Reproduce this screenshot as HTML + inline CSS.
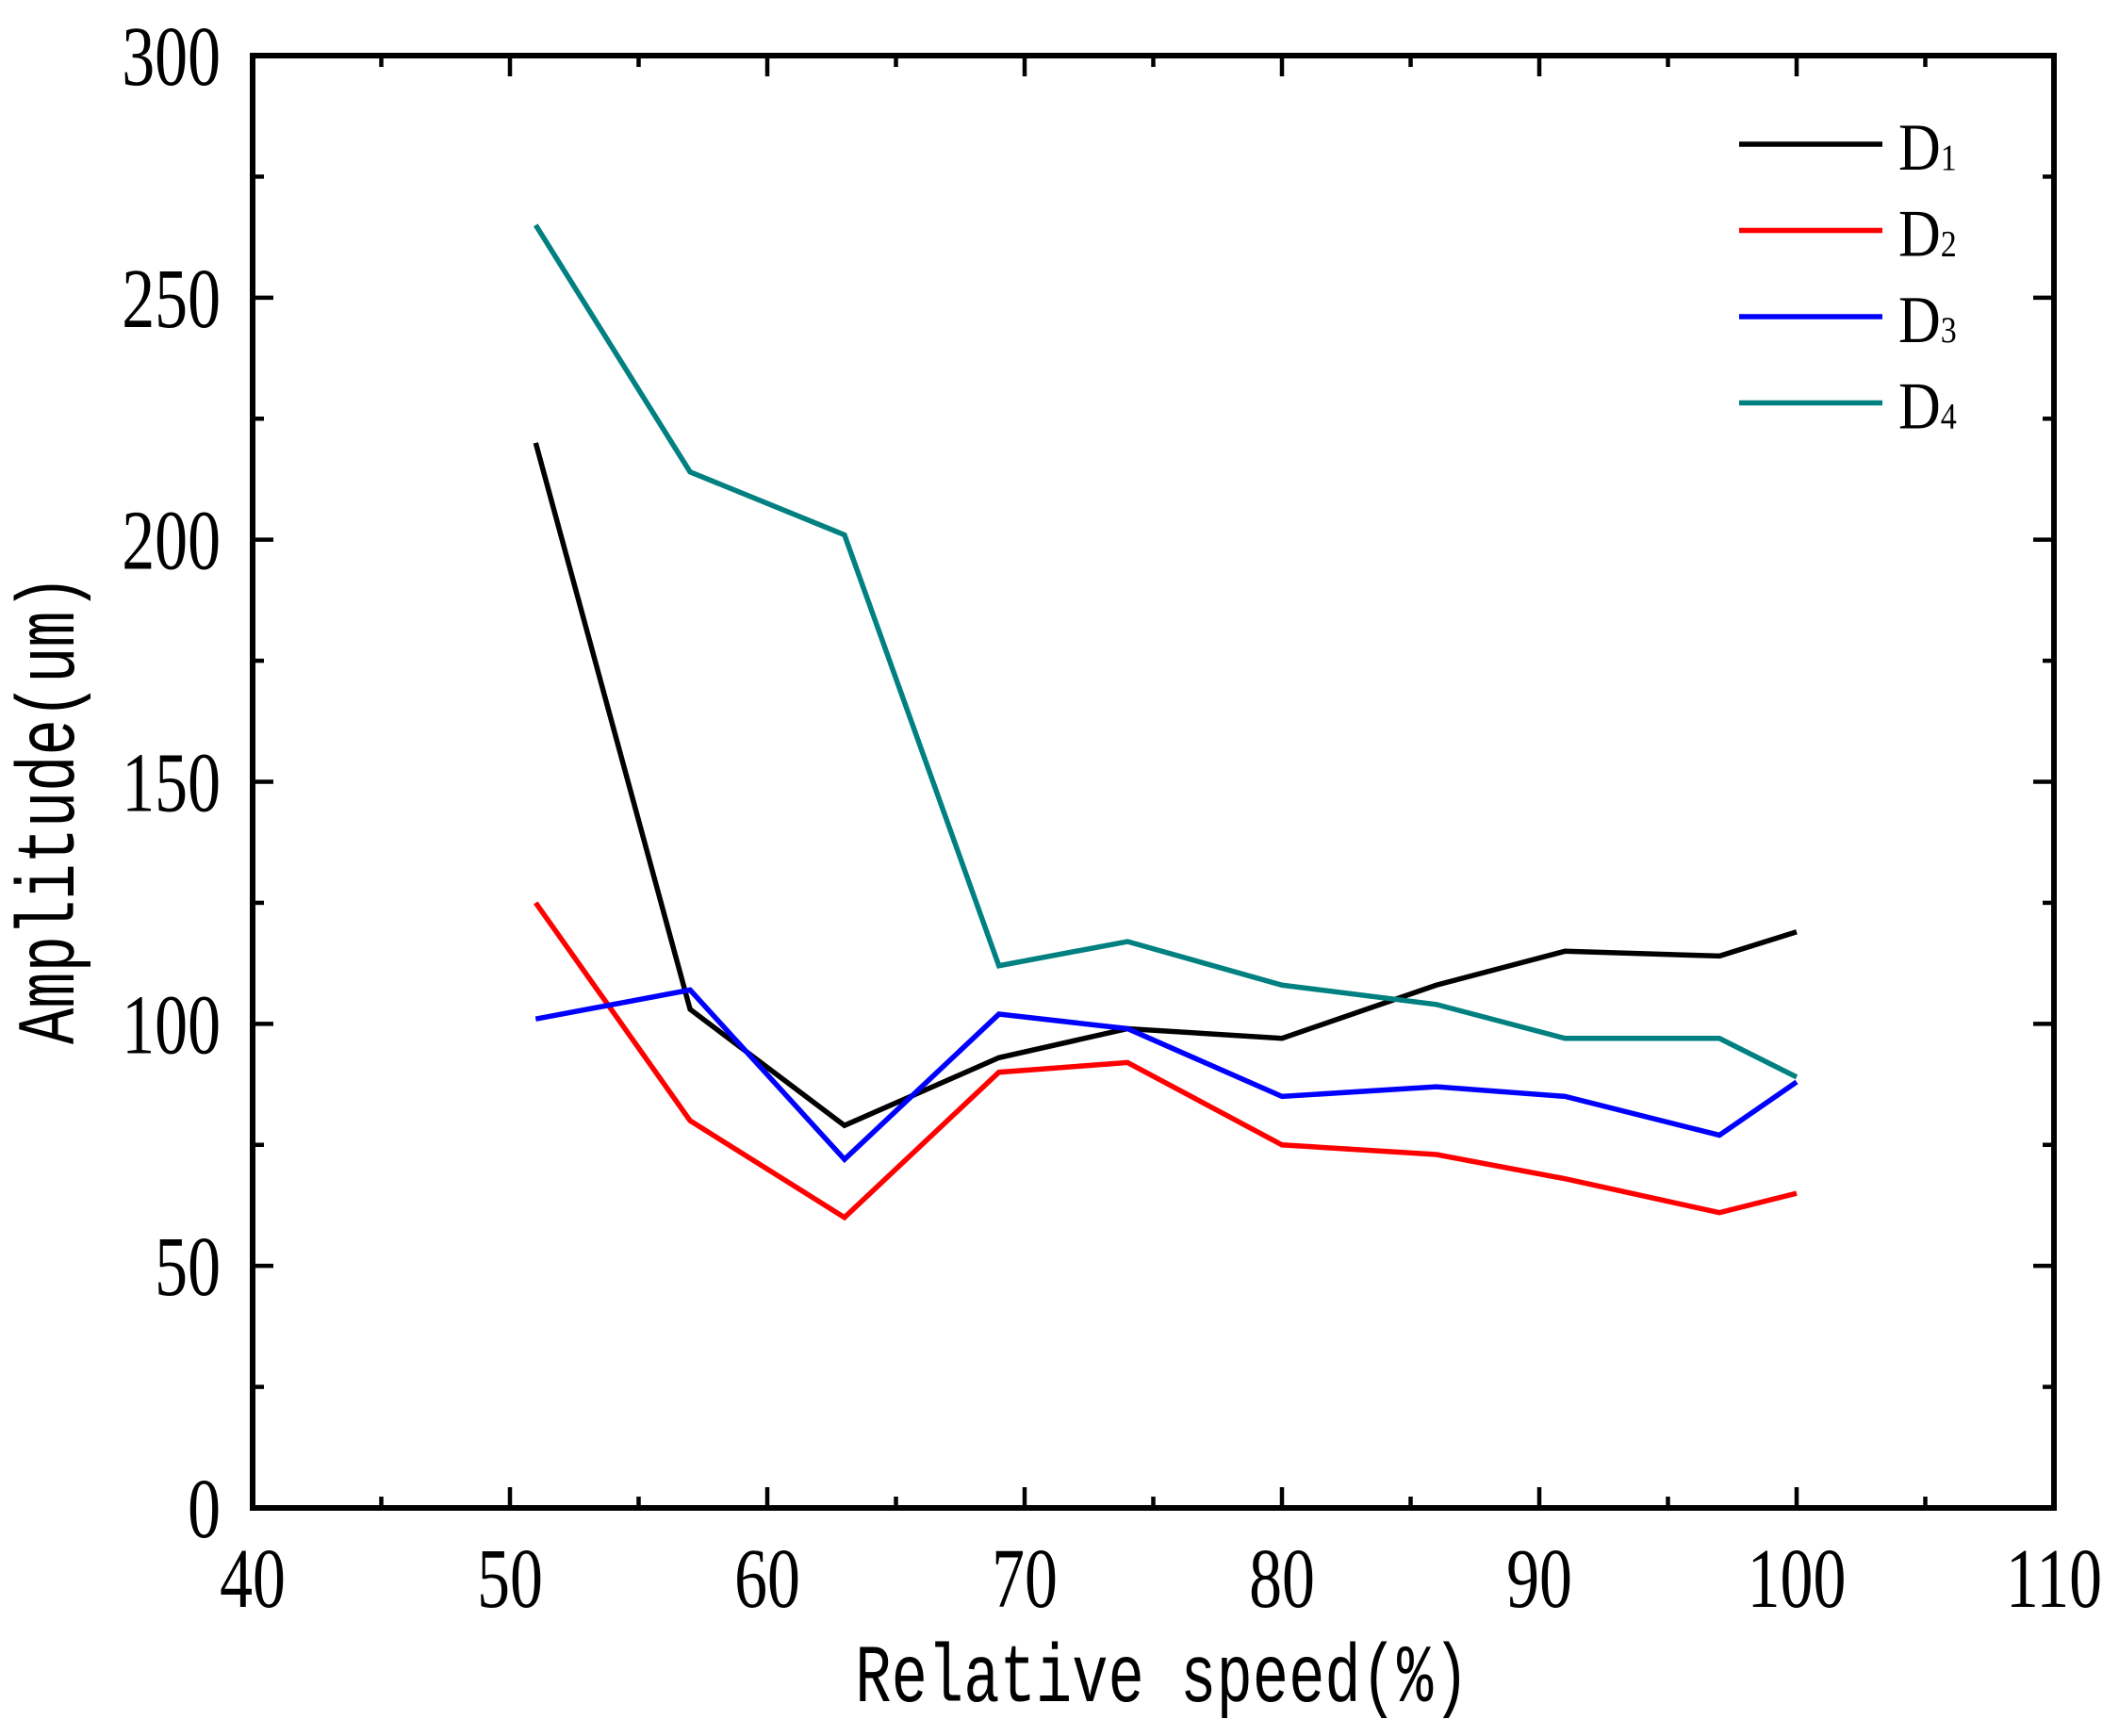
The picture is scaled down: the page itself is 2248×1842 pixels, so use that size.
<!DOCTYPE html>
<html><head><meta charset="utf-8"><style>html,body{margin:0;padding:0;background:#fff}svg{display:block}</style></head>
<body>
<svg id="chart" width="2248" height="1842" viewBox="0 0 2248 1842" xmlns="http://www.w3.org/2000/svg"></svg>
<script>
const xValues = [51,57,63,69,74,80,86,91,97,100];
const seriesD1 = [220,103,79,93,99,97,108,115,114,119];
const seriesD2 = [125,80,60,90,92,75,73,68,61,65];
const seriesD3 = [101,107,72,102,99,85,87,85,77,88];
const seriesD4 = [265,214,201,112,117,108,104,97,97,89];
const seriesNames = ["1","2","3","4"];
const seriesColors = ["#000000","#ff0000","#0000ff","#008080"];
const xTicks = [40,50,60,70,80,90,100,110];
const yTicks = [0,50,100,150,200,250,300];

const NS="http://www.w3.org/2000/svg";
const svg=document.getElementById('chart');
const L=268,R=2179,T=59,B=1600;
const xS=v=>L+(v-40)/70*(R-L);
const yS=v=>B-v/300*(B-T);
function mk(tag,attrs,parent){const e=document.createElementNS(NS,tag);for(const k in attrs)e.setAttribute(k,attrs[k]);(parent||svg).appendChild(e);return e;}

for(let v=40;v<=110;v+=5){
  const major=v%10===0, len=major?22:12, x=xS(v);
  const t1=mk('line',{x1:x,y1:B,x2:x,y2:B-len,stroke:'#000','stroke-width':4.5});
  
  
  const t2=mk('line',{x1:x,y1:T,x2:x,y2:T+len,stroke:'#000','stroke-width':4.5});
  
  
}
for(let v=0;v<=300;v+=25){
  const major=v%50===0, len=major?22:12, y=yS(v);
  const t1=mk('line',{x1:L,y1:y,x2:L+len,y2:y,stroke:'#000','stroke-width':4.5});
  
  
  const t2=mk('line',{x1:R,y1:y,x2:R-len,y2:y,stroke:'#000','stroke-width':4.5});
  
  
}
xTicks.forEach(v=>{
  const t=mk('text',{x:0,y:0,'text-anchor':'middle','font-family':'Liberation Serif, serif','font-size':72,fill:'#000',transform:'translate('+xS(v)+',1705) scale(0.97,1.25)'});
  t.textContent=v;
  
  
});
yTicks.forEach(v=>{
  const t=mk('text',{x:0,y:0,'text-anchor':'end','font-family':'Liberation Serif, serif','font-size':72,fill:'#000',transform:'translate(234,'+(yS(v)+31)+') scale(0.97,1.25)'});
  t.textContent=v;
  
  
});
const fr=mk('rect',{x:L,y:T,width:R-L,height:B-T,fill:'none',stroke:'#000','stroke-width':6});



const allSeries=[seriesD1,seriesD2,seriesD3,seriesD4];
allSeries.forEach((s,i)=>{
  const pts=s.map((v,j)=>xS(xValues[j])+','+yS(v)).join(' ');
  const p=mk('polyline',{points:pts,fill:'none',stroke:seriesColors[i],'stroke-width':5.5,'stroke-linejoin':'miter'});
  
  
  const ly=153+i*91.5;
  const ll=mk('line',{x1:1845,y1:ly,x2:1997,y2:ly,stroke:seriesColors[i],'stroke-width':5.5});
  
  
  const lt=mk('text',{x:0,y:0,'font-family':'Liberation Serif, serif','font-size':62,fill:'#000',transform:'translate(2014,'+(ly+27)+') scale(1,1.15)'});
  lt.textContent='D';
  const sub=document.createElementNS(NS,'tspan');sub.setAttribute('font-size',34);sub.textContent=seriesNames[i];lt.appendChild(sub);
  
  
});

const xl=mk('text',{x:0,y:0,'text-anchor':'middle','font-family':'Liberation Mono, monospace','font-size':62,fill:'#000',transform:'translate(1233,1805) scale(1.03,1.4)'});
xl.textContent='Relative speed(%)';


const yl=mk('text',{x:0,y:0,'text-anchor':'middle','font-family':'Liberation Mono, monospace','font-size':62,fill:'#000',transform:'translate(78,859) rotate(-90) scale(1.03,1.4)'});
yl.textContent='Amplitude(um)';


</script>
</body></html>
